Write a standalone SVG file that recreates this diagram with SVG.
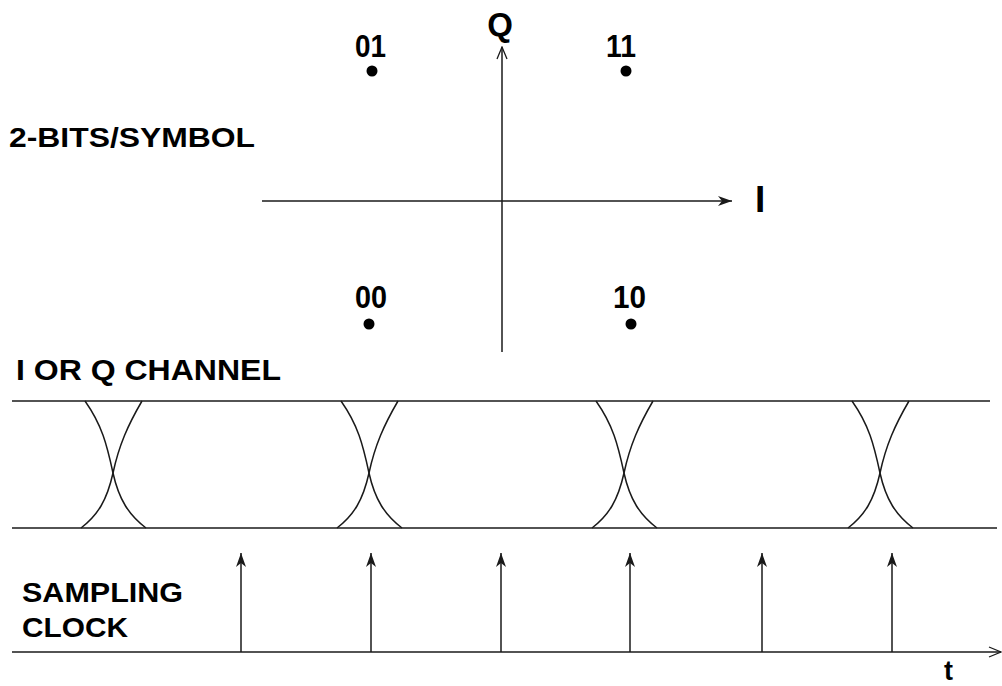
<svg xmlns="http://www.w3.org/2000/svg" xmlns:xlink="http://www.w3.org/1999/xlink" width="1002" height="686" viewBox="0 0 1002 686">
<style>
.ln{stroke:#1a1a1a;stroke-width:1.5;fill:none}
.t{font-family:"Liberation Sans",Arial,sans-serif;font-weight:bold;fill:#000}
.dot{fill:#000}
</style>
<defs>
<marker id="ah" markerUnits="userSpaceOnUse" markerWidth="16" markerHeight="12" refX="0" refY="0" viewBox="-15 -6 16 12" orient="auto">
<path d="M0,0 L-14,-5 L-10,0 L-14,5 Z" fill="#1a1a1a"/>
</marker>
<marker id="oh" markerUnits="userSpaceOnUse" markerWidth="16" markerHeight="14" refX="0" refY="0" viewBox="-15 -7 16 14" orient="auto">
<path d="M-12,-5 L0,0 L-12,5" fill="none" stroke="#1a1a1a" stroke-width="1.3"/>
</marker>
<path id="cA" d="M-28,401 C-11,425 -6,445 0,473 C6,500 16,515 33,528"/>
<path id="cB" d="M29,401 C15,425 6,445 0,473 C-6,500 -15,515 -32,528"/>
</defs>

<g id="connectors">
<line class="ln" x1="502" y1="352" x2="502" y2="47" marker-end="url(#oh)"/>
<line class="ln" x1="262" y1="201" x2="732" y2="201" marker-end="url(#ah)"/>
<line class="ln" x1="12" y1="652" x2="1001" y2="652" marker-end="url(#oh)"/>
<line class="ln" x1="241" y1="652" x2="241" y2="553" marker-end="url(#ah)"/>
<line class="ln" x1="371" y1="652" x2="371" y2="553" marker-end="url(#ah)"/>
<line class="ln" x1="501" y1="652" x2="501" y2="553" marker-end="url(#ah)"/>
<line class="ln" x1="630" y1="652" x2="630" y2="553" marker-end="url(#ah)"/>
<line class="ln" x1="762" y1="652" x2="762" y2="553" marker-end="url(#ah)"/>
<line class="ln" x1="892" y1="652" x2="892" y2="553" marker-end="url(#ah)"/>
</g>

<g id="eye">
<line class="ln" x1="12" y1="401" x2="990" y2="401"/>
<line class="ln" x1="12" y1="528" x2="997" y2="528"/>
<g class="ln">
<use xlink:href="#cA" transform="translate(113,0)"/>
<use xlink:href="#cB" transform="translate(113,0)"/>
<use xlink:href="#cA" transform="translate(369,0)"/>
<use xlink:href="#cB" transform="translate(369,0)"/>
<use xlink:href="#cA" transform="translate(624,0)"/>
<use xlink:href="#cB" transform="translate(624,0)"/>
<use xlink:href="#cA" transform="translate(880,0)"/>
<use xlink:href="#cB" transform="translate(880,0)"/>
</g>
</g>

<g id="p01"><circle class="dot" cx="372" cy="71" r="5.5"/><text class="t" x="355" y="57" font-size="31" textLength="31" lengthAdjust="spacingAndGlyphs">01</text></g>
<g id="p11"><circle class="dot" cx="626" cy="71" r="5.5"/><text class="t" x="606" y="57" font-size="31" textLength="30" lengthAdjust="spacingAndGlyphs">11</text></g>
<g id="p00"><circle class="dot" cx="369" cy="324" r="5.5"/><text class="t" x="355" y="308" font-size="31" textLength="32" lengthAdjust="spacingAndGlyphs">00</text></g>
<g id="p10"><circle class="dot" cx="631" cy="324" r="5.5"/><text class="t" x="613" y="308" font-size="31" textLength="33" lengthAdjust="spacingAndGlyphs">10</text></g>

<g id="labels">
<text class="t" x="500" y="36" font-size="33" text-anchor="middle">Q</text>
<text class="t" x="755" y="212" font-size="37">I</text>
<text class="t" x="9" y="147" font-size="27" textLength="246" lengthAdjust="spacingAndGlyphs">2-BITS/SYMBOL</text>
<text class="t" x="16" y="380" font-size="29" textLength="265" lengthAdjust="spacingAndGlyphs">I OR Q CHANNEL</text>
<text class="t" x="22" y="602" font-size="28" textLength="161" lengthAdjust="spacingAndGlyphs">SAMPLING</text>
<text class="t" x="22" y="637" font-size="28" textLength="106" lengthAdjust="spacingAndGlyphs">CLOCK</text>
<text class="t" x="944" y="680" font-size="27">t</text>
</g>
</svg>
